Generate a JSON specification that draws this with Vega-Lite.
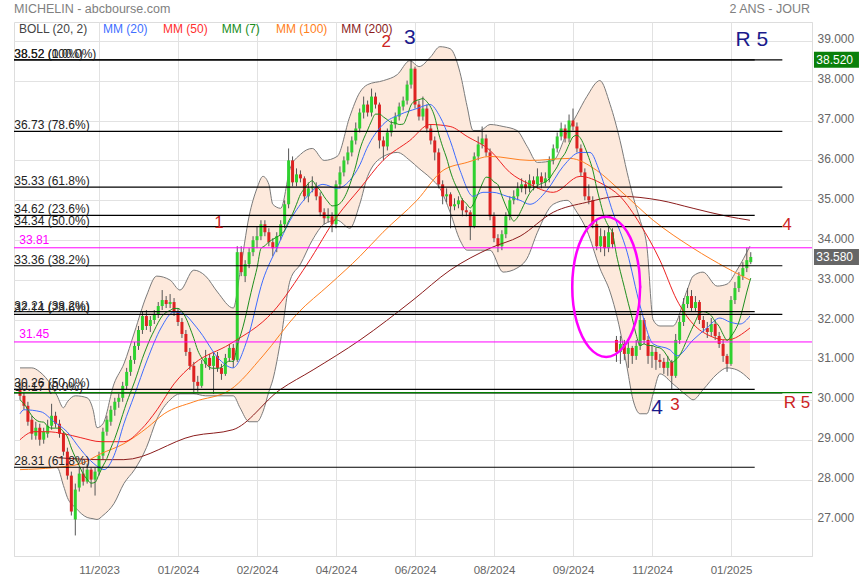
{
"$schema":"https://vega.github.io/schema/vega-lite/v6.json",
"width":798,"height":534,
"autosize":{"type":"none"},
"padding":{"left":14,"top":22,"right":48,"bottom":24},
"background":"white",
"config":{"view":{"stroke":"#dddddd"},"font":"Liberation Sans","text":{"font":"Liberation Sans"},"scale":{"continuousPadding":0}},
"resolve":{"scale":{"color":"independent"}},
"datasets":{
"k":[
{"i":0,"o":30.25,"h":30.45,"l":30.0,"c":30.1,"m":30.0},
{"i":1,"o":30.1,"h":30.2,"l":29.75,"c":29.85,"m":29.9},
{"i":2,"o":29.85,"h":29.95,"l":29.35,"c":29.45,"m":29.75},
{"i":3,"o":29.5,"h":29.6,"l":29.0,"c":29.15,"m":29.6},
{"i":4,"o":29.1,"h":29.45,"l":29.0,"c":29.3,"m":29.5},
{"i":5,"o":29.3,"h":29.4,"l":28.85,"c":29.0,"m":29.45},
{"i":6,"o":29.0,"h":29.3,"l":28.9,"c":29.2,"m":29.44},
{"i":7,"o":29.15,"h":29.5,"l":29.05,"c":29.35,"m":29.33},
{"i":8,"o":29.35,"h":29.9,"l":29.25,"c":29.6,"m":29.29},
{"i":9,"o":29.6,"h":29.7,"l":29.3,"c":29.4,"m":29.29},
{"i":10,"o":29.4,"h":29.5,"l":29.05,"c":29.15,"m":29.29},
{"i":11,"o":29.15,"h":29.2,"l":28.6,"c":28.7,"m":29.2},
{"i":12,"o":28.7,"h":28.8,"l":28.0,"c":28.1,"m":29.07},
{"i":13,"o":28.1,"h":28.2,"l":27.1,"c":27.2,"m":28.79},
{"i":14,"o":27.0,"h":27.9,"l":26.6,"c":27.75,"m":28.56},
{"i":15,"o":27.8,"h":28.3,"l":27.7,"c":28.15,"m":28.35},
{"i":16,"o":28.15,"h":28.3,"l":27.85,"c":27.95,"m":28.14},
{"i":17,"o":27.95,"h":28.4,"l":27.9,"c":28.25,"m":28.01},
{"i":18,"o":28.25,"h":28.3,"l":27.8,"c":28.0,"m":27.91},
{"i":19,"o":28.0,"h":28.3,"l":27.6,"c":28.2,"m":27.93},
{"i":20,"o":28.2,"h":28.7,"l":28.1,"c":28.6,"m":28.13},
{"i":21,"o":28.6,"h":29.3,"l":28.5,"c":29.2,"m":28.34},
{"i":22,"o":29.2,"h":29.6,"l":29.1,"c":29.5,"m":28.53},
{"i":23,"o":29.45,"h":29.85,"l":29.35,"c":29.75,"m":28.79},
{"i":24,"o":29.75,"h":30.05,"l":29.6,"c":29.95,"m":29.03},
{"i":25,"o":29.95,"h":30.15,"l":29.8,"c":30.05,"m":29.32},
{"i":26,"o":30.05,"h":30.45,"l":29.95,"c":30.35,"m":29.63},
{"i":27,"o":30.35,"h":30.8,"l":30.25,"c":30.7,"m":29.93},
{"i":28,"o":30.7,"h":31.1,"l":30.6,"c":31.0,"m":30.19},
{"i":29,"o":31.0,"h":31.45,"l":30.9,"c":31.35,"m":30.45},
{"i":30,"o":31.35,"h":31.85,"l":31.25,"c":31.75,"m":30.74},
{"i":31,"o":31.75,"h":32.2,"l":31.65,"c":32.1,"m":31.04},
{"i":32,"o":32.1,"h":32.25,"l":31.75,"c":31.85,"m":31.3},
{"i":33,"o":31.85,"h":32.1,"l":31.7,"c":32.0,"m":31.54},
{"i":34,"o":32.0,"h":32.25,"l":31.9,"c":32.15,"m":31.74},
{"i":35,"o":32.15,"h":32.45,"l":32.05,"c":32.35,"m":31.94},
{"i":36,"o":32.35,"h":32.75,"l":32.25,"c":32.5,"m":32.1},
{"i":37,"o":32.5,"h":32.6,"l":32.3,"c":32.4,"m":32.19},
{"i":38,"o":32.4,"h":32.65,"l":32.3,"c":32.45,"m":32.24},
{"i":39,"o":32.45,"h":32.55,"l":32.1,"c":32.2,"m":32.29},
{"i":40,"o":32.2,"h":32.3,"l":31.85,"c":31.95,"m":32.29},
{"i":41,"o":31.95,"h":32.05,"l":31.55,"c":31.65,"m":32.21},
{"i":42,"o":31.65,"h":31.75,"l":31.1,"c":31.2,"m":32.05},
{"i":43,"o":31.2,"h":31.3,"l":30.75,"c":30.85,"m":31.81},
{"i":44,"o":30.85,"h":30.95,"l":30.15,"c":30.45,"m":31.54},
{"i":45,"o":30.45,"h":30.6,"l":30.2,"c":30.35,"m":31.24},
{"i":46,"o":30.35,"h":31.0,"l":30.3,"c":30.9,"m":31.05},
{"i":47,"o":30.9,"h":31.25,"l":30.8,"c":31.05,"m":30.92},
{"i":48,"o":31.05,"h":31.15,"l":30.75,"c":30.85,"m":30.81},
{"i":49,"o":30.85,"h":31.2,"l":30.15,"c":31.1,"m":30.79},
{"i":50,"o":31.1,"h":31.2,"l":30.7,"c":30.8,"m":30.79},
{"i":51,"o":30.8,"h":30.9,"l":30.5,"c":30.65,"m":30.81},
{"i":52,"o":30.65,"h":31.15,"l":30.6,"c":31.05,"m":30.91},
{"i":53,"o":31.05,"h":31.4,"l":30.95,"c":31.3,"m":30.97},
{"i":54,"o":31.3,"h":31.4,"l":30.8,"c":31.0,"m":30.96},
{"i":55,"o":31.0,"h":33.85,"l":30.95,"c":33.7,"m":31.37},
{"i":56,"o":33.7,"h":33.85,"l":33.1,"c":33.2,"m":31.67},
{"i":57,"o":33.1,"h":33.5,"l":32.95,"c":33.4,"m":32.04},
{"i":58,"o":33.4,"h":33.8,"l":33.3,"c":33.7,"m":32.48},
{"i":59,"o":33.7,"h":34.1,"l":33.6,"c":34.0,"m":32.9},
{"i":60,"o":34.0,"h":34.35,"l":33.8,"c":34.1,"m":33.3},
{"i":61,"o":34.1,"h":34.5,"l":34.0,"c":34.4,"m":33.79},
{"i":62,"o":34.4,"h":34.5,"l":34.1,"c":34.2,"m":33.86},
{"i":63,"o":34.2,"h":34.3,"l":33.85,"c":33.95,"m":33.96},
{"i":64,"o":33.95,"h":34.05,"l":33.6,"c":33.8,"m":34.02},
{"i":65,"o":33.8,"h":34.2,"l":33.7,"c":34.1,"m":34.08},
{"i":66,"o":34.1,"h":34.5,"l":34.0,"c":34.4,"m":34.14},
{"i":67,"o":34.4,"h":35.0,"l":34.3,"c":34.9,"m":34.25},
{"i":68,"o":34.9,"h":36.3,"l":34.8,"c":36.0,"m":34.48},
{"i":69,"o":36.0,"h":36.1,"l":35.35,"c":35.45,"m":34.66},
{"i":70,"o":35.45,"h":35.8,"l":35.35,"c":35.65,"m":34.9},
{"i":71,"o":35.65,"h":35.75,"l":35.45,"c":35.55,"m":35.15},
{"i":72,"o":35.55,"h":35.6,"l":35.0,"c":35.1,"m":35.29},
{"i":73,"o":35.1,"h":35.45,"l":34.95,"c":35.3,"m":35.42},
{"i":74,"o":35.3,"h":35.6,"l":35.2,"c":35.35,"m":35.49},
{"i":75,"o":35.35,"h":35.45,"l":35.0,"c":35.1,"m":35.36},
{"i":76,"o":35.1,"h":35.2,"l":34.6,"c":34.7,"m":35.25},
{"i":77,"o":34.7,"h":34.8,"l":34.4,"c":34.55,"m":35.09},
{"i":78,"o":34.55,"h":34.8,"l":34.45,"c":34.6,"m":34.96},
{"i":79,"o":34.6,"h":34.7,"l":34.2,"c":34.4,"m":34.86},
{"i":80,"o":34.4,"h":35.5,"l":34.3,"c":35.4,"m":34.87},
{"i":81,"o":35.4,"h":35.85,"l":35.3,"c":35.7,"m":34.92},
{"i":82,"o":35.7,"h":36.1,"l":35.6,"c":36.0,"m":35.05},
{"i":83,"o":36.0,"h":36.35,"l":35.9,"c":36.2,"m":35.26},
{"i":84,"o":36.2,"h":36.6,"l":36.1,"c":36.5,"m":35.54},
{"i":85,"o":36.5,"h":36.95,"l":36.4,"c":36.8,"m":35.86},
{"i":86,"o":36.8,"h":37.3,"l":36.7,"c":37.2,"m":36.26},
{"i":87,"o":37.2,"h":37.6,"l":37.05,"c":37.4,"m":36.54},
{"i":88,"o":37.4,"h":37.5,"l":37.1,"c":37.2,"m":36.76},
{"i":89,"o":37.2,"h":37.8,"l":37.1,"c":37.6,"m":36.99},
{"i":90,"o":37.6,"h":37.7,"l":37.3,"c":37.4,"m":37.16},
{"i":91,"o":37.4,"h":37.45,"l":36.3,"c":36.5,"m":37.16},
{"i":92,"o":36.5,"h":36.6,"l":36.0,"c":36.35,"m":37.09},
{"i":93,"o":36.35,"h":36.8,"l":36.25,"c":36.7,"m":37.02},
{"i":94,"o":36.7,"h":37.0,"l":36.6,"c":36.9,"m":36.95},
{"i":95,"o":36.9,"h":37.2,"l":36.8,"c":37.1,"m":36.94},
{"i":96,"o":37.1,"h":37.45,"l":37.0,"c":37.35,"m":36.9},
{"i":97,"o":37.35,"h":37.6,"l":37.25,"c":37.5,"m":36.91},
{"i":98,"o":37.5,"h":38.0,"l":37.4,"c":37.9,"m":37.11},
{"i":99,"o":37.9,"h":38.52,"l":37.8,"c":38.3,"m":37.39},
{"i":100,"o":38.3,"h":38.35,"l":37.3,"c":37.4,"m":37.49},
{"i":101,"o":37.4,"h":37.5,"l":37.0,"c":37.1,"m":37.52},
{"i":102,"o":37.1,"h":37.6,"l":37.0,"c":37.3,"m":37.55},
{"i":103,"o":37.3,"h":37.4,"l":36.7,"c":36.8,"m":37.47},
{"i":104,"o":36.8,"h":36.9,"l":36.4,"c":36.5,"m":37.33},
{"i":105,"o":36.5,"h":36.6,"l":36.0,"c":36.2,"m":37.09},
{"i":106,"o":36.2,"h":36.3,"l":35.3,"c":35.4,"m":36.67},
{"i":107,"o":35.4,"h":35.5,"l":34.9,"c":35.1,"m":36.34},
{"i":108,"o":35.1,"h":35.3,"l":34.95,"c":35.15,"m":36.06},
{"i":109,"o":35.15,"h":35.2,"l":34.3,"c":34.85,"m":35.71},
{"i":110,"o":34.85,"h":35.05,"l":34.75,"c":34.9,"m":35.44},
{"i":111,"o":34.9,"h":35.1,"l":34.8,"c":35.0,"m":35.23},
{"i":112,"o":35.0,"h":35.05,"l":34.6,"c":34.75,"m":35.02},
{"i":113,"o":34.75,"h":34.85,"l":34.6,"c":34.7,"m":34.92},
{"i":114,"o":34.7,"h":34.75,"l":34.0,"c":34.35,"m":34.81},
{"i":115,"o":34.35,"h":36.2,"l":34.3,"c":36.1,"m":34.95},
{"i":116,"o":36.1,"h":36.6,"l":36.0,"c":36.4,"m":35.17},
{"i":117,"o":36.4,"h":36.85,"l":36.3,"c":36.55,"m":35.41},
{"i":118,"o":36.55,"h":36.65,"l":36.1,"c":36.2,"m":35.58},
{"i":119,"o":36.2,"h":36.3,"l":34.5,"c":34.6,"m":35.56},
{"i":120,"o":34.6,"h":34.7,"l":33.95,"c":34.05,"m":35.46},
{"i":121,"o":34.05,"h":34.15,"l":33.7,"c":33.85,"m":35.39},
{"i":122,"o":33.85,"h":34.25,"l":33.75,"c":34.15,"m":35.11},
{"i":123,"o":34.15,"h":34.7,"l":34.05,"c":34.6,"m":34.86},
{"i":124,"o":34.6,"h":35.1,"l":34.5,"c":35.0,"m":34.64},
{"i":125,"o":35.0,"h":35.25,"l":34.9,"c":35.1,"m":34.48},
{"i":126,"o":35.1,"h":35.45,"l":35.0,"c":35.3,"m":34.58},
{"i":127,"o":35.3,"h":35.55,"l":35.2,"c":35.4,"m":34.77},
{"i":128,"o":35.4,"h":35.5,"l":35.15,"c":35.3,"m":34.98},
{"i":129,"o":35.3,"h":35.65,"l":35.2,"c":35.5,"m":35.17},
{"i":130,"o":35.5,"h":35.6,"l":35.25,"c":35.4,"m":35.29},
{"i":131,"o":35.4,"h":35.8,"l":35.3,"c":35.6,"m":35.37},
{"i":132,"o":35.6,"h":35.7,"l":35.3,"c":35.45,"m":35.42},
{"i":133,"o":35.45,"h":35.7,"l":35.35,"c":35.55,"m":35.46},
{"i":134,"o":35.55,"h":36.1,"l":35.45,"c":36.0,"m":35.54},
{"i":135,"o":36.0,"h":36.4,"l":35.9,"c":36.3,"m":35.69},
{"i":136,"o":36.3,"h":36.7,"l":36.2,"c":36.6,"m":35.84},
{"i":137,"o":36.6,"h":36.95,"l":36.5,"c":36.8,"m":36.04},
{"i":138,"o":36.8,"h":36.9,"l":36.45,"c":36.55,"m":36.18},
{"i":139,"o":36.55,"h":37.15,"l":36.45,"c":37.0,"m":36.4},
{"i":140,"o":37.0,"h":37.3,"l":36.75,"c":36.85,"m":36.59},
{"i":141,"o":36.85,"h":36.95,"l":36.2,"c":36.3,"m":36.63},
{"i":142,"o":36.3,"h":36.4,"l":35.6,"c":35.7,"m":36.54},
{"i":143,"o":35.7,"h":35.8,"l":35.0,"c":35.1,"m":36.33},
{"i":144,"o":35.1,"h":35.4,"l":34.9,"c":35.0,"m":36.07},
{"i":145,"o":35.0,"h":35.1,"l":34.3,"c":34.4,"m":35.76},
{"i":146,"o":34.4,"h":34.5,"l":33.75,"c":33.85,"m":35.31},
{"i":147,"o":33.85,"h":34.3,"l":33.7,"c":34.1,"m":34.92},
{"i":148,"o":34.1,"h":34.25,"l":33.6,"c":33.8,"m":34.56},
{"i":149,"o":33.8,"h":34.35,"l":33.7,"c":34.2,"m":34.35},
{"i":150,"o":34.2,"h":34.3,"l":33.8,"c":33.9,"m":34.18},
{"i":151,"o":31.5,"h":31.6,"l":30.95,"c":31.2,"m":33.64},
{"i":152,"o":31.2,"h":31.6,"l":30.9,"c":31.4,"m":33.21},
{"i":153,"o":31.4,"h":31.5,"l":31.0,"c":31.15,"m":32.82},
{"i":154,"o":31.15,"h":31.45,"l":30.8,"c":31.3,"m":32.42},
{"i":155,"o":31.3,"h":31.35,"l":30.9,"c":31.1,"m":32.04},
{"i":156,"o":31.1,"h":31.5,"l":31.0,"c":31.35,"m":31.63},
{"i":157,"o":31.35,"h":32.2,"l":31.25,"c":32.0,"m":31.36},
{"i":158,"o":32.0,"h":32.05,"l":31.4,"c":31.5,"m":31.4},
{"i":159,"o":31.5,"h":31.6,"l":30.9,"c":31.1,"m":31.36},
{"i":160,"o":31.1,"h":31.35,"l":30.8,"c":31.2,"m":31.36},
{"i":161,"o":31.2,"h":31.3,"l":30.75,"c":31.0,"m":31.32},
{"i":162,"o":31.0,"h":31.15,"l":30.8,"c":30.95,"m":31.3},
{"i":163,"o":30.95,"h":31.05,"l":30.65,"c":30.8,"m":31.22},
{"i":164,"o":30.8,"h":31.1,"l":30.6,"c":30.95,"m":31.07},
{"i":165,"o":30.95,"h":31.0,"l":30.25,"c":30.6,"m":30.94},
{"i":166,"o":30.6,"h":31.65,"l":30.55,"c":31.5,"m":31.0},
{"i":167,"o":31.5,"h":32.1,"l":31.4,"c":31.95,"m":31.11},
{"i":168,"o":31.95,"h":32.55,"l":31.85,"c":32.4,"m":31.31},
{"i":169,"o":32.4,"h":32.8,"l":32.3,"c":32.6,"m":31.54},
{"i":170,"o":32.6,"h":32.75,"l":32.2,"c":32.3,"m":31.76},
{"i":171,"o":32.3,"h":32.6,"l":32.2,"c":32.45,"m":31.97},
{"i":172,"o":32.45,"h":32.5,"l":31.9,"c":32.0,"m":32.17},
{"i":173,"o":32.0,"h":32.1,"l":31.7,"c":31.8,"m":32.21},
{"i":174,"o":31.8,"h":31.95,"l":31.55,"c":31.7,"m":32.18},
{"i":175,"o":31.7,"h":32.05,"l":31.6,"c":31.9,"m":32.11},
{"i":176,"o":31.9,"h":32.0,"l":31.5,"c":31.6,"m":31.96},
{"i":177,"o":31.6,"h":31.7,"l":31.3,"c":31.4,"m":31.84},
{"i":178,"o":31.4,"h":31.5,"l":30.95,"c":31.1,"m":31.64},
{"i":179,"o":31.1,"h":31.15,"l":30.7,"c":30.9,"m":31.49},
{"i":180,"o":30.9,"h":32.6,"l":30.85,"c":32.5,"m":31.59},
{"i":181,"o":32.5,"h":32.95,"l":32.4,"c":32.8,"m":31.74},
{"i":182,"o":32.8,"h":33.2,"l":32.7,"c":33.1,"m":31.95},
{"i":183,"o":33.1,"h":33.45,"l":33.0,"c":33.3,"m":32.3},
{"i":184,"o":33.3,"h":33.81,"l":33.2,"c":33.5,"m":32.7},
{"i":185,"o":33.45,"h":33.7,"l":33.4,"c":33.58,"m":33.05}
],
"bb":[
{"i":0,"u":30.8,"l":28.3},{"i":3,"u":30.8,"l":28.3},{"i":5,"u":30.7,"l":28.3},{"i":8,"u":30.35,"l":28.3},{"i":9.4,"u":30.1,"l":28.3},
{"i":11,"u":29.8,"l":27.85},{"i":12,"u":29.95,"l":27.55},{"i":14,"u":30.1,"l":27.3},{"i":17,"u":30.05,"l":27.05},{"i":18.5,"u":29.75,"l":27.02},
{"i":19.5,"u":29.3,"l":27.0},{"i":21,"u":29.4,"l":27.1},{"i":23.8,"u":30.4,"l":27.4},{"i":26.3,"u":30.9,"l":27.9},{"i":29,"u":31.7,"l":28.25},
{"i":32,"u":32.6,"l":28.8},{"i":34.6,"u":33.1,"l":29.5},{"i":38,"u":33.0,"l":30.0},{"i":40.5,"u":32.75,"l":30.15},{"i":44,"u":33.25,"l":30.15},
{"i":47,"u":33.1,"l":30.1},{"i":50,"u":32.7,"l":30.1},{"i":54,"u":32.3,"l":30.1},{"i":55.7,"u":33.2,"l":29.8},{"i":58,"u":34.6,"l":29.45},
{"i":60,"u":35.3,"l":29.45},{"i":61.5,"u":35.6,"l":29.7},{"i":63,"u":35.4,"l":30.2},{"i":64,"u":34.9,"l":30.5},{"i":66,"u":34.8,"l":31.5},
{"i":68.4,"u":35.8,"l":33.0},{"i":71,"u":36.15,"l":33.4},{"i":74,"u":36.3,"l":34.0},{"i":77,"u":36.0,"l":34.4},{"i":80.3,"u":36.1,"l":34.5},
{"i":83.5,"u":37.1,"l":34.3},{"i":86,"u":37.7,"l":34.9},{"i":88,"u":37.9,"l":35.6},{"i":92,"u":38.0,"l":36.1},{"i":95.5,"u":38.15,"l":36.2},
{"i":98.7,"u":38.5,"l":36.0},{"i":101,"u":38.35,"l":35.8},{"i":104,"u":38.6,"l":35.55},{"i":106.3,"u":38.85,"l":35.3},{"i":108.9,"u":38.8,"l":34.7},
{"i":111.4,"u":38.2,"l":34.0},{"i":113.2,"u":37.35,"l":33.75},{"i":114.7,"u":36.75,"l":33.75},{"i":116.5,"u":36.75,"l":33.75},{"i":119,"u":36.9,"l":33.75},
{"i":122.3,"u":36.85,"l":33.2},{"i":125.8,"u":36.75,"l":33.3},{"i":128.4,"u":36.35,"l":33.55},{"i":131,"u":35.95,"l":34.2},{"i":135,"u":36.0,"l":34.9},
{"i":138.5,"u":36.7,"l":35.0},{"i":141,"u":37.15,"l":34.7},{"i":143.5,"u":37.6,"l":34.25},{"i":146.8,"u":38.0,"l":33.3},{"i":149.4,"u":37.4,"l":32.7},
{"i":151.9,"u":36.5,"l":31.75},{"i":153.7,"u":35.7,"l":30.8},{"i":155.2,"u":35.1,"l":30.0},{"i":157,"u":34.5,"l":29.65},{"i":158.7,"u":33.85,"l":29.65},
{"i":160.3,"u":32.0,"l":30.15},{"i":162,"u":31.85,"l":30.65},{"i":165.3,"u":31.85,"l":30.4},{"i":168.9,"u":32.75,"l":30.1},{"i":170.4,"u":33.1,"l":30.0},
{"i":172.9,"u":33.2,"l":30.25},{"i":176.5,"u":32.85,"l":30.65},{"i":179,"u":32.9,"l":30.8},{"i":181.5,"u":33.25,"l":30.75},{"i":184.8,"u":33.85,"l":30.5}
],
"m20":[
{"i":0,"v":29.65},{"i":1,"v":29.75},{"i":5.3,"v":29.7},{"i":8.6,"v":29.45},{"i":11.9,"v":29.2},{"i":15.4,"v":28.75},{"i":18.7,"v":28.4},{"i":21.3,"v":28.25},{"i":23.8,"v":28.6},{"i":26.3,"v":29.4},{"i":28.9,"v":30.1},{"i":32.2,"v":31.0},{"i":35.7,"v":31.8},{"i":39,"v":32.2},{"i":41.5,"v":32.15},{"i":44,"v":31.9},{"i":45.6,"v":31.7},{"i":50.6,"v":31.0},{"i":53.9,"v":30.8},{"i":57.5,"v":31.5},{"i":61.5,"v":33.0},{"i":65,"v":33.8},{"i":68.4,"v":34.5},{"i":72.7,"v":35.1},{"i":76.7,"v":35.4},{"i":80.3,"v":35.3},{"i":83.5,"v":35.5},{"i":86.1,"v":35.9},{"i":87.8,"v":36.3},{"i":91.9,"v":36.9},{"i":96.2,"v":37.15},{"i":100.5,"v":37.3},{"i":103.8,"v":37.4},{"i":106.3,"v":37.1},{"i":108.9,"v":36.5},{"i":111.4,"v":35.75},{"i":114.7,"v":35.1},{"i":117.2,"v":35.2},{"i":119.7,"v":35.2},{"i":123.3,"v":35.1},{"i":126.6,"v":35.0},{"i":129.1,"v":34.9},{"i":133.4,"v":35.25},{"i":137.5,"v":35.85},{"i":141.8,"v":36.2},{"i":144.3,"v":36.2},{"i":146.8,"v":35.7},{"i":150.1,"v":34.7},{"i":153.7,"v":33.7},{"i":157,"v":32.35},{"i":160.3,"v":31.4},{"i":164.6,"v":31.25},{"i":166.3,"v":31.1},{"i":170.4,"v":31.5},{"i":173.9,"v":31.8},{"i":177.2,"v":32.05},{"i":179.7,"v":31.95},{"i":182.3,"v":31.9},{"i":184.8,"v":32.1}
],
"m50":[
{"i":0,"v":29.0},{"i":3.5,"v":29.2},{"i":6.8,"v":29.2},{"i":11.1,"v":29.15},{"i":15.4,"v":29.05},{"i":20.5,"v":28.95},{"i":26.3,"v":28.95},{"i":30.6,"v":29.25},{"i":34.7,"v":29.75},{"i":39,"v":30.4},{"i":44,"v":30.9},{"i":53.2,"v":31.4},{"i":64,"v":32.2},{"i":72.7,"v":33.4},{"i":80.3,"v":34.6},{"i":86.1,"v":35.3},{"i":91.9,"v":36.0},{"i":98.7,"v":36.5},{"i":103.8,"v":36.9},{"i":108.9,"v":36.85},{"i":113.2,"v":36.6},{"i":119,"v":36.25},{"i":124,"v":35.7},{"i":129.1,"v":35.4},{"i":135,"v":35.2},{"i":141.8,"v":35.6},{"i":147.6,"v":35.4},{"i":151.9,"v":35.1},{"i":157,"v":34.4},{"i":162,"v":33.5},{"i":166.3,"v":32.5},{"i":170.4,"v":31.9},{"i":174.7,"v":31.6},{"i":179,"v":31.5},{"i":184.8,"v":31.8}
],
"m100":[
{"i":0,"v":28.25},{"i":8.6,"v":28.3},{"i":15.4,"v":28.4},{"i":20.5,"v":28.65},{"i":26.3,"v":28.9},{"i":32.2,"v":29.3},{"i":36.5,"v":29.65},{"i":44,"v":29.95},{"i":53.2,"v":30.25},{"i":61.5,"v":31.1},{"i":70.1,"v":32.15},{"i":78.5,"v":32.9},{"i":86.1,"v":33.6},{"i":91.9,"v":34.2},{"i":100.5,"v":35.0},{"i":107.1,"v":35.75},{"i":113.2,"v":35.95},{"i":119,"v":36.1},{"i":129.1,"v":36.0},{"i":139.2,"v":36.05},{"i":146,"v":35.75},{"i":151.9,"v":35.25},{"i":160.3,"v":34.5},{"i":170.4,"v":33.8},{"i":179,"v":33.3},{"i":184.8,"v":33.0}
],
"m200":[
{"i":9.4,"v":28.55},{"i":20.3,"v":28.5},{"i":26.3,"v":28.5},{"i":44,"v":29.1},{"i":53.9,"v":29.25},{"i":65.8,"v":30.25},{"i":74.2,"v":30.75},{"i":86.1,"v":31.5},{"i":99.5,"v":32.5},{"i":108.9,"v":33.25},{"i":119,"v":33.8},{"i":126.6,"v":34.1},{"i":135,"v":34.7},{"i":143.5,"v":34.95},{"i":151.9,"v":35.1},{"i":162,"v":35.0},{"i":170.4,"v":34.8},{"i":179,"v":34.6},{"i":184.8,"v":34.5}
],
"fibA":[{"v":38.52,"t":"38.52  (100.0%)"},{"v":36.73,"t":"36.73  (78.6%)"},{"v":35.33,"t":"35.33  (61.8%)"},{"v":34.34,"t":"34.34  (50.0%)"},{"v":33.36,"t":"33.36  (38.2%)"},{"v":32.14,"t":"32.14  (23.6%)"},{"v":30.17,"t":"30.17  (0.0%)"}],
"fibB":[{"v":38.52,"t":"38.52  (0.0%)"},{"v":34.62,"t":"34.62  (23.6%)"},{"v":32.21,"t":"32.21  (38.2%)"},{"v":30.26,"t":"30.26  (50.0%)"},{"v":28.31,"t":"28.31  (61.8%)"}],
"mag":[{"v":33.81,"t":"33.81"},{"v":31.45,"t":"31.45"}],
"grn":[{"v":30.18}],
"ell":[
{"k":0,"i":157.0,"v":32.83},{"k":1,"i":156.71,"v":33.285},{"k":2,"i":155.85,"v":33.708},{"k":3,"i":154.48,"v":34.071},{"k":4,"i":152.7,"v":34.35},{"k":5,"i":150.63,"v":34.525},{"k":6,"i":148.4,"v":34.585},{"k":7,"i":146.17,"v":34.525},{"k":8,"i":144.1,"v":34.35},{"k":9,"i":142.32,"v":34.071},{"k":10,"i":140.95,"v":33.708},{"k":11,"i":140.09,"v":33.285},{"k":12,"i":139.8,"v":32.83},{"k":13,"i":140.09,"v":32.375},{"k":14,"i":140.95,"v":31.952},{"k":15,"i":142.32,"v":31.589},{"k":16,"i":144.1,"v":31.31},{"k":17,"i":146.17,"v":31.135},{"k":18,"i":148.4,"v":31.075},{"k":19,"i":150.63,"v":31.135},{"k":20,"i":152.7,"v":31.31},{"k":21,"i":154.48,"v":31.589},{"k":22,"i":155.85,"v":31.952},{"k":23,"i":156.71,"v":32.375},{"k":24,"i":157.0,"v":32.83}
],
"annR":[{"i":50.4,"v":34.43,"t":"1"},{"i":92.7,"v":38.97,"t":"2"},{"i":194.2,"v":34.38,"t":"4"},{"i":165.8,"v":29.87,"t":"3"},{"i":196.7,"v":29.92,"t":"R 5"}],
"annB":[{"i":98.7,"v":39.07,"t":"3"},{"i":161.3,"v":29.8,"t":"4"},{"i":185.3,"v":39.02,"t":"R 5"}],
"leg":[{"i":-0.25,"t":"BOLL (20, 2)"},{"i":21,"t":"MM (20)"},{"i":36.2,"t":"MM (50)"},{"i":51.1,"t":"MM (7)"},{"i":64.8,"t":"MM (100)"},{"i":81.3,"t":"MM (200)"}],
"box":[{"v":38.52,"t":"38.520"},{"v":33.58,"t":"33.580"}]
},
"layer":[
{"data":{"name":"bb"},"mark":{"type":"area","fill":"#fde9dc","interpolate":"monotone"},
 "encoding":{
  "x":{"field":"i","type":"quantitative","scale":{"domain":[-1.519,200.506],"nice":false,"zero":false,"padding":0},
       "axis":{"title":null,"values":[20,40,60,80,100,120,140,160,180],"labelExpr":"['11/2023','01/2024','02/2024','04/2024','06/2024','08/2024','09/2024','11/2024','01/2025'][datum.value/20-1]","grid":true,"gridColor":"#e2e2e2","ticks":false,"domainColor":"#dddddd","labelColor":"#666666","labelFont":"Liberation Sans","labelFontSize":11.5,"labelPadding":8}},
  "y":{"field":"l","type":"quantitative","scale":{"domain":[26.085,39.469],"nice":false,"zero":false,"padding":0},
       "axis":{"title":null,"orient":"right","values":[27,28,29,30,31,32,33,34,35,36,37,38,39],"format":".3f","grid":true,"gridColor":"#e2e2e2","ticks":false,"domainColor":"#dddddd","labelColor":"#666666","labelFont":"Liberation Sans","labelFontSize":12,"labelPadding":5,"labelOffset":-2}},
  "y2":{"field":"u"}}},
{"data":{"name":"bb"},"mark":{"type":"line","stroke":"#7a7a7a","strokeWidth":1,"interpolate":"monotone"},
 "encoding":{"x":{"field":"i","type":"quantitative"},"y":{"field":"u","type":"quantitative"}}},
{"data":{"name":"bb"},"mark":{"type":"line","stroke":"#7a7a7a","strokeWidth":1,"interpolate":"monotone"},
 "encoding":{"x":{"field":"i","type":"quantitative"},"y":{"field":"l","type":"quantitative"}}},
{"data":{"name":"k"},"mark":{"type":"rule","stroke":"#555555","strokeWidth":1},
 "encoding":{"x":{"field":"i","type":"quantitative"},"y":{"field":"l","type":"quantitative"},"y2":{"field":"h"}}},
{"data":{"name":"k"},"mark":{"type":"bar","size":3},
 "encoding":{"x":{"field":"i","type":"quantitative"},"y":{"field":"o","type":"quantitative"},"y2":{"field":"c"},
  "color":{"condition":{"test":"datum.c >= datum.o","value":"#2fd12f"},"value":"#dd2222"}}},
{"data":{"name":"m200"},"mark":{"type":"line","stroke":"#8b1c1c","strokeWidth":1,"interpolate":"monotone"},
 "encoding":{"x":{"field":"i","type":"quantitative"},"y":{"field":"v","type":"quantitative"}}},
{"data":{"name":"m100"},"mark":{"type":"line","stroke":"#ff7f20","strokeWidth":1,"interpolate":"monotone"},
 "encoding":{"x":{"field":"i","type":"quantitative"},"y":{"field":"v","type":"quantitative"}}},
{"data":{"name":"m50"},"mark":{"type":"line","stroke":"#ee2222","strokeWidth":1,"interpolate":"monotone"},
 "encoding":{"x":{"field":"i","type":"quantitative"},"y":{"field":"v","type":"quantitative"}}},
{"data":{"name":"m20"},"mark":{"type":"line","stroke":"#3d6cff","strokeWidth":1,"interpolate":"monotone"},
 "encoding":{"x":{"field":"i","type":"quantitative"},"y":{"field":"v","type":"quantitative"}}},
{"data":{"name":"k"},"mark":{"type":"line","stroke":"#1f8f1f","strokeWidth":1,"interpolate":"monotone"},
 "encoding":{"x":{"field":"i","type":"quantitative"},"y":{"field":"m","type":"quantitative"}}},
{"data":{"name":"fibA"},"mark":{"type":"rule","stroke":"#000000","strokeWidth":1.2},
 "encoding":{"x":{"datum":-1.519},"x2":{"datum":193},"y":{"field":"v","type":"quantitative"}}},
{"data":{"name":"fibB"},"mark":{"type":"rule","stroke":"#000000","strokeWidth":1.2},
 "encoding":{"x":{"datum":-1.519},"x2":{"datum":186},"y":{"field":"v","type":"quantitative"}}},
{"data":{"name":"mag"},"mark":{"type":"rule","stroke":"#ff00ff","strokeWidth":1},
 "encoding":{"x":{"datum":-1.519},"x2":{"datum":200.506},"y":{"field":"v","type":"quantitative"}}},
{"data":{"name":"grn"},"mark":{"type":"rule","stroke":"#008000","strokeWidth":1.2},
 "encoding":{"x":{"datum":-1.519},"x2":{"datum":200.506},"y":{"field":"v","type":"quantitative"}}},
{"data":{"name":"fibA"},"mark":{"type":"text","align":"left","baseline":"alphabetic","dy":-2,"fontSize":12,"color":"#222222"},
 "encoding":{"x":{"datum":-1.45},"y":{"field":"v","type":"quantitative"},"text":{"field":"t"}}},
{"data":{"name":"fibB"},"mark":{"type":"text","align":"left","baseline":"alphabetic","dy":-2,"fontSize":12,"color":"#222222"},
 "encoding":{"x":{"datum":-1.45},"y":{"field":"v","type":"quantitative"},"text":{"field":"t"}}},
{"data":{"name":"mag"},"mark":{"type":"text","align":"left","baseline":"alphabetic","dy":-4,"fontSize":12,"color":"#ff00ff"},
 "encoding":{"x":{"datum":-0.2},"y":{"field":"v","type":"quantitative"},"text":{"field":"t"}}},
{"data":{"name":"ell"},"mark":{"type":"line","stroke":"#ff00ff","strokeWidth":2.5,"interpolate":"cardinal-closed"},
 "encoding":{"x":{"field":"i","type":"quantitative"},"y":{"field":"v","type":"quantitative"},"order":{"field":"k"}}},
{"data":{"name":"annR"},"mark":{"type":"text","align":"center","baseline":"middle","fontSize":17,"color":"#cc2222"},
 "encoding":{"x":{"field":"i","type":"quantitative"},"y":{"field":"v","type":"quantitative"},"text":{"field":"t"}}},
{"data":{"name":"annB"},"mark":{"type":"text","align":"center","baseline":"middle","fontSize":21,"color":"#1a1a8c"},
 "encoding":{"x":{"field":"i","type":"quantitative"},"y":{"field":"v","type":"quantitative"},"text":{"field":"t"}}},
{"data":{"name":"leg"},"mark":{"type":"text","align":"left","baseline":"middle","fontSize":12},
 "encoding":{"x":{"field":"i","type":"quantitative"},"y":{"datum":39.29},"text":{"field":"t"},
  "color":{"field":"t","type":"nominal","legend":null,"scale":{"domain":["BOLL (20, 2)","MM (20)","MM (50)","MM (7)","MM (100)","MM (200)"],"range":["#444444","#3f6fff","#ff3030","#1a8c1a","#ff8020","#8b1c1c"]}}}},
{"data":{"values":[{"t":"MICHELIN - abcbourse.com"}]},"mark":{"type":"text","align":"left","baseline":"middle","fontSize":12.5,"color":"#808080"},
 "encoding":{"x":{"datum":-1.519},"y":{"datum":39.79},"text":{"field":"t"}}},
{"data":{"values":[{"t":"2 ANS - JOUR"}]},"mark":{"type":"text","align":"right","baseline":"middle","fontSize":12.5,"color":"#808080"},
 "encoding":{"x":{"datum":200},"y":{"datum":39.79},"text":{"field":"t"}}},
{"data":{"name":"box"},"transform":[{"filter":"datum.t == '38.520'"}],"mark":{"type":"tick","orient":"horizontal","size":45,"thickness":16,"color":"#0a800a","opacity":1},
 "encoding":{"x":{"datum":206.7},"y":{"field":"v","type":"quantitative"}}},
{"data":{"name":"box"},"transform":[{"filter":"datum.t == '33.580'"}],"mark":{"type":"tick","orient":"horizontal","size":45,"thickness":16,"color":"#666666","opacity":1},
 "encoding":{"x":{"datum":206.7},"y":{"field":"v","type":"quantitative"}}},
{"data":{"name":"box"},"mark":{"type":"text","align":"left","baseline":"middle","fontSize":12,"color":"#ffffff"},
 "encoding":{"x":{"datum":201.6},"y":{"field":"v","type":"quantitative"},"text":{"field":"t"}}}
]
}
